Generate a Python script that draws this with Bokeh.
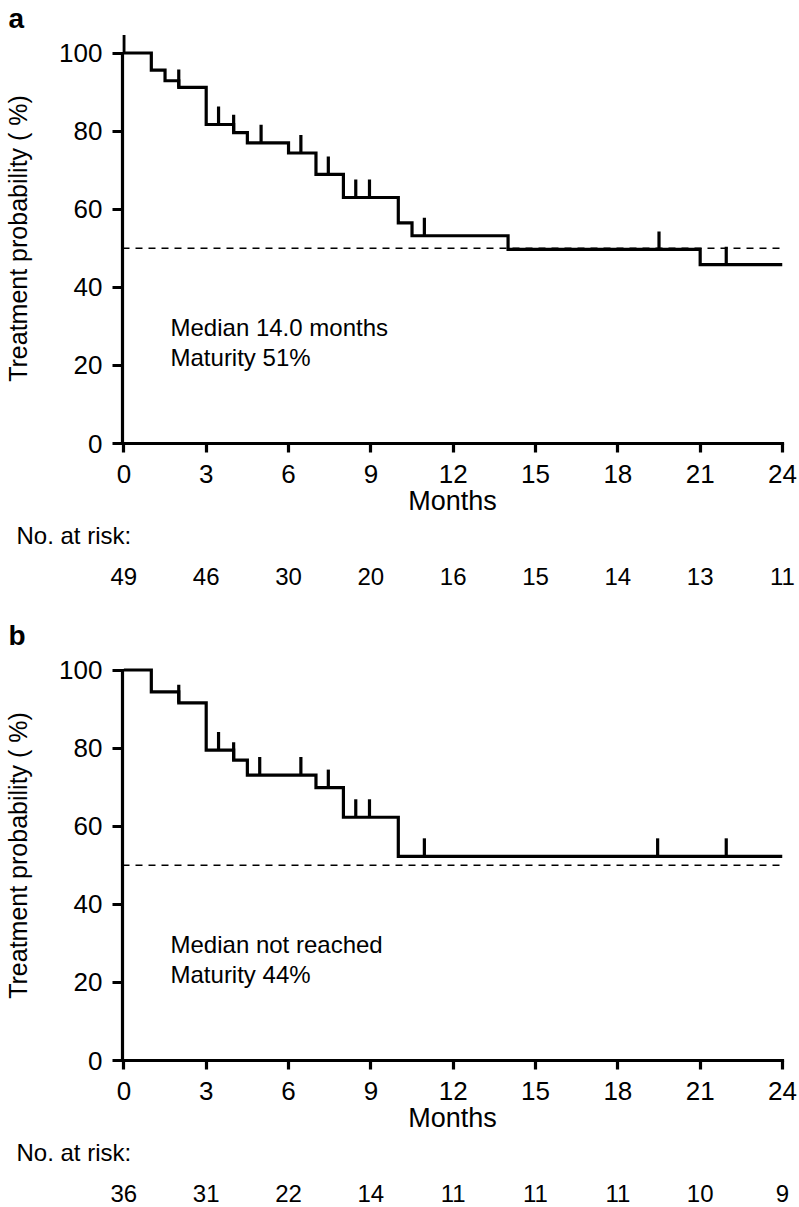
import numpy as np
from bokeh.plotting import figure
from bokeh.models import Range1d, FixedTicker, Label, Span, Title, LinearAxis
from bokeh.layouts import column
from bokeh.embed import file_html
from bokeh.resources import INLINE

# ---- data ----
month_ticks = [0, 3, 6, 9, 12, 15, 18, 21, 24]
pct_ticks = [0, 20, 40, 60, 80, 100]

# panel a
times_a = [0, 1, 1.5, 2, 3, 4, 4.5, 6, 7, 8, 10, 10.5, 14, 21, 24]
surv_a = [100, 95.6, 92.9, 91.2, 81.7, 79.6, 77.0, 74.4, 68.9, 63.0, 56.5, 53.2, 49.7, 45.8, 45.8]
censor_a = [0, 2, 3.45, 4, 5, 6.45, 7.45, 8.45, 8.95, 10.95, 19.5, 21.95]
risk_a = [49, 46, 30, 20, 16, 15, 14, 13, 11]
median_a = "Median 14.0 months"
maturity_a = "Maturity 51%"

# panel b
times_b = [0, 1, 2, 3, 4, 4.5, 7, 8, 10, 24]
surv_b = [100, 94.4, 91.6, 79.5, 76.9, 73.1, 69.9, 62.3, 52.3, 52.3]
censor_b = [2, 3.45, 4, 4.95, 6.45, 7.45, 8.45, 8.95, 10.95, 19.45, 21.95]
risk_b = [36, 31, 22, 14, 11, 11, 11, 10, 9]
median_b = "Median not reached"
maturity_b = "Maturity 44%"

reference_level = 50

# ---- style ----
FONT = "Liberation Sans"
MARK_H = 4.6  # censor tick height in % units
LW = 3.2


def make_panel(letter, times, surv, censor, risk, median_txt, maturity_txt, top, bottom):
    p = figure(frame_width=660, frame_height=410,
               min_border_left=122, min_border_right=17,
               min_border_top=top, min_border_bottom=bottom,
               x_range=Range1d(-0.05, 24), y_range=Range1d(0, 105),
               output_backend="svg", toolbar_location=None, tools="")
    p.outline_line_color = None
    p.grid.visible = False
    p.background_fill_color = "white"
    p.border_fill_color = "white"

    # panel letter as title
    p.title.text = letter
    p.title.text_font = FONT
    p.title.text_font_size = "28px"
    p.title.text_font_style = "bold"
    p.title.text_color = "black"
    p.title.align = "left"
    p.title.offset = -114
    p.title.standoff = 0

    # reference line
    p.add_layout(Span(location=reference_level, dimension="width", line_color="black",
                      line_width=1.4, line_dash="7 6"))

    # KM step curve
    p.step(times, surv, mode="after", line_width=LW, line_color="black", line_join="miter")

    # censor marks
    idx = np.searchsorted(np.array(times), np.array(censor), side="right") - 1
    cy = np.array(surv)[idx]
    p.segment(x0=censor, y0=cy, x1=censor, y1=cy + MARK_H, line_width=LW, line_color="black")

    # axes
    for ax in (p.xaxis[0], p.yaxis[0]):
        ax.axis_line_width = LW
        ax.axis_line_color = "black"
        ax.axis_line_cap = "square"
        ax.major_tick_line_width = LW
        ax.major_tick_line_color = "black"
        ax.major_tick_in = 0
        ax.minor_tick_line_color = None
        ax.major_label_text_font = FONT
        ax.major_label_text_font_size = "26px"
        ax.major_label_text_color = "black"
        ax.axis_label_text_font = FONT
        ax.axis_label_text_font_style = "normal"
        ax.axis_label_text_color = "black"
    p.xaxis.ticker = FixedTicker(ticks=month_ticks)
    p.xaxis.bounds = (0, 24)
    p.xaxis.major_tick_out = 9
    p.xaxis.major_label_standoff = 12
    p.xaxis.axis_label = "Months"
    p.xaxis.axis_label_text_font_size = "27px"
    p.xaxis.axis_label_standoff = 0

    p.yaxis.ticker = FixedTicker(ticks=pct_ticks)
    p.yaxis.bounds = (0, 100)
    p.yaxis.major_tick_out = 10
    p.yaxis.major_label_standoff = 10
    p.yaxis.axis_label = "Treatment probability ( %)"
    p.yaxis.axis_label_text_font_size = "25px"
    p.yaxis.axis_label_standoff = 24

    # annotations
    p.add_layout(Label(x=1.7, y=29.8, text=median_txt, text_font=FONT, text_font_size="24px",
                       text_align="left", text_baseline="middle", text_color="black"))
    p.add_layout(Label(x=1.7, y=22.0, text=maturity_txt, text_font=FONT, text_font_size="24px",
                       text_align="left", text_baseline="middle", text_color="black"))

    # number at risk: caption + row of numbers (extra axis)
    p.add_layout(Title(text="No. at risk:", align="left", offset=-106, vertical_align="middle",
                       standoff=4, text_font=FONT, text_font_size="24px",
                       text_font_style="normal", text_color="black"), "below")
    risk_axis = LinearAxis(ticker=FixedTicker(ticks=month_ticks),
                           major_label_overrides={m: str(n) for m, n in zip(month_ticks, risk)},
                           axis_line_color=None, major_tick_line_color=None,
                           minor_tick_line_color=None, major_tick_in=0, major_tick_out=0,
                           major_label_standoff=16, major_label_text_font=FONT,
                           major_label_text_font_size="24px", major_label_text_color="black")
    p.add_layout(risk_axis, "below")
    return p


pa = make_panel("a", times_a, surv_a, censor_a, risk_a, median_a, maturity_a, top=33, bottom=157)
pb = make_panel("b", times_b, surv_b, censor_b, risk_b, median_b, maturity_b, top=50, bottom=147)

layout = column(pa, pb, spacing=0)
open("out.html", "w").write(file_html(layout, INLINE))
